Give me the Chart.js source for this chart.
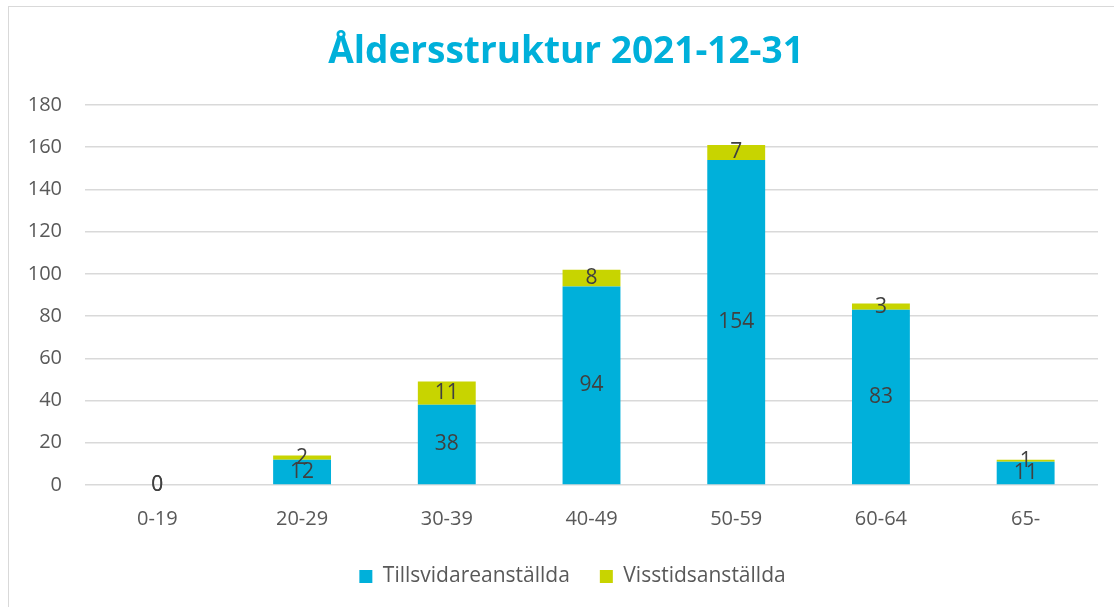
<!DOCTYPE html>
<html>
<head>
<meta charset="utf-8">
<script src="https://cdn.jsdelivr.net/npm/chart.js@4.4.1/dist/chart.umd.min.js"></script>
<style>
  html, body { margin: 0; padding: 0; background: #fff; overflow: hidden; }
  #wrap { position: absolute; left: 0; top: 0; width: 1114px; height: 607px; }
  #frame { position: absolute; left: 8px; top: 6px; width: 1200px; height: 700px; border: 1.5px solid #d9d9d9; box-sizing: border-box; pointer-events: none; }
</style>
</head>
<body>
<div id="wrap">
  <div id="frame"></div>
  <canvas id="c" width="1114" height="607"></canvas>
</div>
<script>
const categories = ['0-19', '20-29', '30-39', '40-49', '50-59', '60-64', '65-'];
const tillsvidare = [0, 12, 38, 94, 154, 83, 11];
const visstid = [0, 2, 11, 8, 7, 3, 1];
const yTicks = [0, 20, 40, 60, 80, 100, 120, 140, 160, 180];
const titleText = 'Åldersstruktur 2021-12-31';
const seriesNames = ['Tillsvidareanställda', 'Visstidsanställda'];

const FONT = "'Open Sans', 'Liberation Sans', sans-serif";

const valueLabels = {
  id: 'valueLabels',
  afterDatasetsDraw(chart) {
    const ctx = chart.ctx;
    ctx.save();
    ctx.font = '21px ' + FONT;
    ctx.fillStyle = '#404040';
    ctx.textAlign = 'center';
    ctx.textBaseline = 'middle';
    chart.data.datasets.forEach((ds, di) => {
      const meta = chart.getDatasetMeta(di);
      meta.data.forEach((el, i) => {
        const y = (el.y + el.base) / 2;
        ctx.fillText(String(ds.data[i]), el.x, y);
      });
    });
    ctx.restore();
  }
};

const chartTitle = {
  id: 'chartTitle',
  afterDraw(chart) {
    const ctx = chart.ctx;
    ctx.save();
    ctx.font = 'bold 37px ' + FONT;
    ctx.fillStyle = '#00B0DA';
    ctx.textAlign = 'center';
    ctx.textBaseline = 'middle';
    ctx.fillText(titleText, 566, 52);
    ctx.restore();
  }
};

const legendShift = {
  id: 'legendShift',
  afterLayout(chart) {
    if (chart.legend) { chart.legend.left += 47; }
  }
};

new Chart(document.getElementById('c'), {
  type: 'bar',
  data: {
    labels: categories,
    datasets: [
      { label: seriesNames[0], data: tillsvidare, backgroundColor: '#00B0DA', categoryPercentage: 1, barPercentage: 0.4 },
      { label: seriesNames[1], data: visstid, backgroundColor: '#C8D400', categoryPercentage: 1, barPercentage: 0.4 }
    ]
  },
  options: {
    responsive: false,
    animation: false,
    layout: { padding: { left: 0, right: 16, top: 105, bottom: 10 } },
    plugins: {
      title: { display: false },
      legend: {
        position: 'bottom',
        labels: {
          color: '#595959',
          font: { family: FONT, size: 21 },
          boxWidth: 13, boxHeight: 13,
          padding: 30
        }
      },
      tooltip: { enabled: false }
    },
    scales: {
      x: {
        stacked: true,
        grid: { display: false, drawTicks: false },
        border: { display: false },
        ticks: { color: '#595959', font: { family: FONT, size: 20 }, padding: 22 },
        afterFit(scale) { scale.height = 51; }
      },
      y: {
        stacked: true,
        min: 0, max: 180,
        afterBuildTicks(scale) { scale.ticks = yTicks.map(v => ({ value: v })); },
        grid: { color: '#d9d9d9', lineWidth: 1.5, drawTicks: false },
        border: { display: false },
        ticks: { color: '#595959', font: { family: FONT, size: 20 }, padding: 23 },
        afterFit(scale) { scale.width = 85; }
      }
    }
  },
  plugins: [valueLabels, chartTitle, legendShift]
});
</script>
</body>
</html>
